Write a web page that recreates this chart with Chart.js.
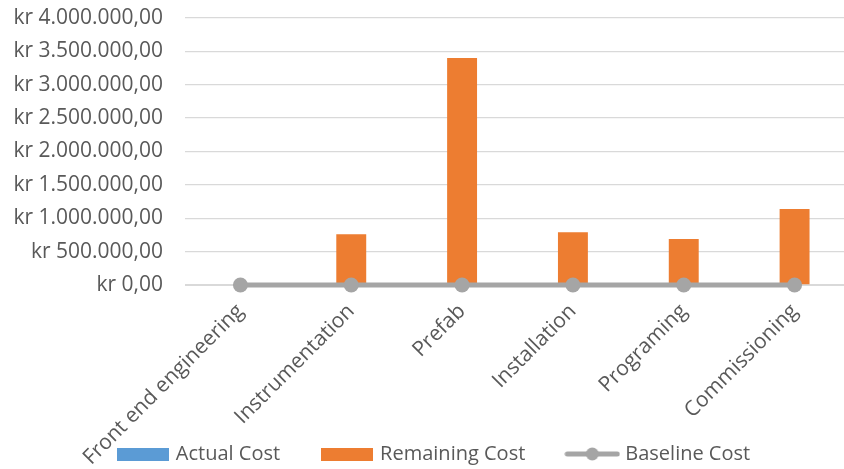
<!DOCTYPE html>
<html>
<head>
<meta charset="utf-8">
<script src="https://cdn.jsdelivr.net/npm/chart.js@4.4.0/dist/chart.umd.min.js"></script>
<style>
  html, body { margin: 0; padding: 0; overflow: hidden; background: #fff; }
  #wrap { width: 870px; height: 469px; }
</style>
</head>
<body>
<div id="wrap"><canvas id="chart"></canvas></div>
<script>
const kategori = ["Front end engineering", "Instrumentation", "Prefab", "Installation", "Programing", "Commissioning"];
const actualCost = [0, 0, 0, 0, 0, 0];
const remainingCost = [0, 760000, 3400000, 790000, 690000, 1140000];
const baselineCost = [0, 0, 0, 0, 0, 0];
const yMin = 0, yMax = 4000000, yStep = 500000;

const warnaTeks = "#595959";
const font = "'Open Sans', sans-serif";

const kr = v => "kr " + Math.round(v).toString().replace(/\B(?=(\d{3})+(?!\d))/g, ".") + ",00";

// ikon legend (kotak dan garis dengan titik)
function kotak(warna) {
  const c = document.createElement("canvas");
  c.width = 52; c.height = 13;
  const g = c.getContext("2d");
  g.fillStyle = warna;
  g.fillRect(0, 0, 52, 13);
  return c;
}
function garis(warna) {
  const c = document.createElement("canvas");
  c.width = 56; c.height = 16;
  const g = c.getContext("2d");
  g.strokeStyle = warna;
  g.lineWidth = 5;
  g.lineCap = "round";
  g.beginPath(); g.moveTo(3, 8); g.lineTo(53, 8); g.stroke();
  g.fillStyle = warna;
  g.beginPath(); g.arc(28, 8, 6.5, 0, Math.PI * 2); g.fill();
  return c;
}

const ctx = document.getElementById("chart").getContext("2d");
const chart = new Chart(ctx, {
  type: "bar",
  data: {
    labels: kategori,
    datasets: [
      {
        label: "Actual Cost",
        data: actualCost,
        backgroundColor: "#5B9BD5",
        barPercentage: 0.27,
        categoryPercentage: 1,
        order: 1,
        legendIcon: kotak("#5B9BD5")
      },
      {
        label: "Remaining Cost",
        data: remainingCost,
        backgroundColor: "#ED7D31",
        barPercentage: 0.27,
        categoryPercentage: 1,
        order: 1,
        legendIcon: kotak("#ED7D31")
      },
      {
        type: "line",
        label: "Baseline Cost",
        data: baselineCost,
        borderColor: "#A5A5A5",
        backgroundColor: "#A5A5A5",
        borderWidth: 5,
        pointRadius: 7.5,
        pointBorderWidth: 0,
        pointBackgroundColor: "#A5A5A5",
        clip: false,
        order: 0,
        legendIcon: garis("#A5A5A5")
      }
    ]
  },
  options: {
    responsive: true,
    maintainAspectRatio: false,
    animation: false,
    layout: { padding: { top: 18, right: 20, bottom: -5, left: 20 } },
    plugins: {
      tooltip: { enabled: false },
      legend: {
        position: "bottom",
        labels: {
          usePointStyle: true,
          pointStyleWidth: 46,
          padding: 44,
          color: warnaTeks,
          font: { family: font, size: 20 },
          generateLabels: ch => ch.data.datasets.map((d, i) => ({
            text: d.label,
            pointStyle: d.legendIcon,
            fillStyle: d.backgroundColor,
            strokeStyle: d.backgroundColor,
            lineWidth: 0,
            fontColor: warnaTeks,
            hidden: false,
            datasetIndex: i
          }))
        }
      }
    },
    scales: {
      x: {
        stacked: true,
        grid: { display: false },
        border: { color: "#d9d9d9" },
        ticks: {
          color: warnaTeks,
          font: { family: font, size: 21 },
          minRotation: 45,
          maxRotation: 45,
          padding: 6
        },
        afterFit: s => {
          s.height = 115;
          // label miring boleh keluar dari kotak sumbu
          s._computeLabelArea = () => undefined;
        }
      },
      y: {
        min: yMin,
        max: yMax,
        grid: { color: "#d9d9d9", lineWidth: 1.3, drawTicks: false },
        border: { display: false },
        ticks: {
          stepSize: yStep,
          color: warnaTeks,
          font: { family: font, size: 21 },
          padding: 22,
          callback: v => kr(v)
        },
        afterFit: s => {
          s.width = 165;
          s.paddingTop = 0;
          s.paddingBottom = 0;
          s._computeLabelArea = () => undefined;
        }
      }
    }
  }
});
</script>
</body>
</html>
